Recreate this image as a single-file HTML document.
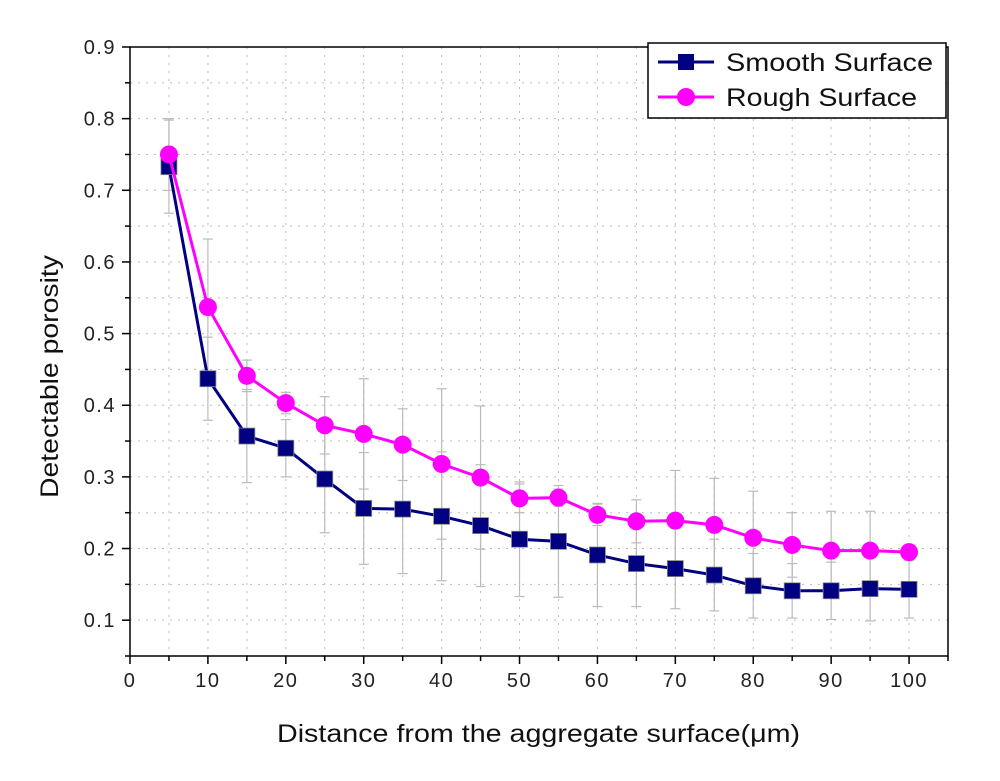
<!DOCTYPE html>
<html><head><meta charset="utf-8"><style>
body{margin:0;background:#fff;}
svg{display:block;font-family:"Liberation Sans",Arial,sans-serif;}
</style></head><body>
<svg id="chart" width="1000" height="781"></svg>
<script>
const xValues=[5,10,15,20,25,30,35,40,45,50,55,60,65,70,75,80,85,90,95,100];
const smoothValues=[0.733,0.437,0.357,0.340,0.297,0.256,0.255,0.245,0.232,0.213,0.210,0.191,0.179,0.172,0.163,0.148,0.141,0.141,0.144,0.143];
const roughValues=[0.750,0.537,0.441,0.403,0.372,0.360,0.345,0.318,0.299,0.270,0.271,0.247,0.238,0.239,0.233,0.215,0.205,0.197,0.197,0.195];
const smoothErr=[0.065,0.058,0.065,0.04,0.075,0.078,0.09,0.09,0.085,0.08,0.078,0.072,0.06,0.056,0.05,0.045,0.038,0.04,0.045,0.04];
const roughErr=[0.05,0.095,0.022,0.015,0.04,0.077,0.05,0.105,0.1,0.02,0.012,0.015,0.03,0.07,0.065,0.065,0.045,0.055,0.055,0.01];
const xTicks=[0,10,20,30,40,50,60,70,80,90,100];
const yTicks=[0.1,0.2,0.3,0.4,0.5,0.6,0.7,0.8,0.9];

const NS="http://www.w3.org/2000/svg";
const svg=document.getElementById('chart');
const L=130,R=948,T=47,B=656;
const xs=v=>L+(v-0)*(R-L)/105;
const ys=v=>B-(v-0.05)*(B-T)/0.85;
function mk(tag,a,parent){const e=document.createElementNS(NS,tag);for(const k in a)e.setAttribute(k,a[k]);(parent||svg).appendChild(e);return e;}

const grid=mk('g',{});


for(let v=5;v<105;v+=5){mk('line',{x1:xs(v),x2:xs(v),y1:T,y2:B,stroke:'#bbb','stroke-dasharray':'2,6'},grid);}
for(let i=1;i<17;i++){const v=0.05+i*0.05;mk('line',{x1:L,x2:R,y1:ys(v),y2:ys(v),stroke:'#bbb','stroke-dasharray':'2,6'},grid);}

const frame=mk('rect',{x:L,y:T,width:R-L,height:B-T,fill:'none',stroke:'#000','stroke-width':1.5});



for(let v=0;v<=105;v+=5){mk('line',{x1:xs(v),x2:xs(v),y1:B,y2:B+(v%10===0?8:5),stroke:'#000','stroke-width':1.5});}
xTicks.forEach(v=>{const t=mk('text',{x:xs(v),y:B+31,'text-anchor':'middle','font-size':20,'letter-spacing':1.5,fill:'#222'});t.textContent=v;

});
for(let i=0;i<=17;i++){const v=0.05+i*0.05;mk('line',{x1:L,x2:L-(i%2===1?8:5),y1:ys(v),y2:ys(v),stroke:'#000','stroke-width':1.5});}
yTicks.forEach(v=>{const t=mk('text',{x:L-14,y:ys(v)+7,'text-anchor':'end','font-size':20,'letter-spacing':1.5,fill:'#222'});t.textContent=v.toFixed(1);

});

const xt=mk('text',{x:277,y:742,'font-size':25,fill:'#111',textLength:523,lengthAdjust:'spacingAndGlyphs'});xt.textContent='Distance from the aggregate surface(\u03BCm)';


const yt=mk('text',{x:0,y:0,'font-size':25,fill:'#111',textLength:243,lengthAdjust:'spacingAndGlyphs',transform:'translate(58,498) rotate(-90)'});yt.textContent='Detectable porosity';



function errs(vals,err,name){const g=mk('g',{});


vals.forEach((v,i)=>{const x=xs(xValues[i]);const y1=ys(v-err[i]),y2=ys(v+err[i]);
mk('line',{x1:x,x2:x,y1:y1,y2:y2,stroke:'#bbb','stroke-width':1.2},g);
mk('line',{x1:x-5,x2:x+5,y1:y1,y2:y1,stroke:'#bbb','stroke-width':1.2},g);
mk('line',{x1:x-5,x2:x+5,y1:y2,y2:y2,stroke:'#bbb','stroke-width':1.2},g);});}
errs(smoothValues,smoothErr,'smooth-error-bars');
errs(roughValues,roughErr,'rough-error-bars');

function series(vals,color,shape,name){const g=mk('g',{});


mk('polyline',{points:vals.map((v,i)=>xs(xValues[i])+','+ys(v)).join(' '),fill:'none',stroke:color,'stroke-width':3},g);
vals.forEach((v,i)=>{const x=xs(xValues[i]),y=ys(v);
if(shape==='sq'){const m=mk('rect',{x:x-8,y:y-8,width:16,height:16,fill:color,stroke:'#888','stroke-width':0.8},g);

}
else{const m=mk('circle',{cx:x,cy:y,r:9,fill:color},g);

}});}
series(smoothValues,'#000080','sq','smooth-surface-series');
series(roughValues,'#ff00ff','ci','rough-surface-series');

const lg=mk('g',{});


mk('rect',{x:648,y:43,width:298,height:75,fill:'#fff',stroke:'#000','stroke-width':1.5},lg);
mk('line',{x1:658,x2:714,y1:62,y2:62,stroke:'#000080','stroke-width':3},lg);
mk('rect',{x:678,y:54,width:16,height:16,fill:'#000080'},lg);
const l1=mk('text',{x:726,y:71,'font-size':25,fill:'#111',textLength:207,lengthAdjust:'spacingAndGlyphs'},lg);l1.textContent='Smooth Surface';


mk('line',{x1:658,x2:714,y1:97,y2:97,stroke:'#ff00ff','stroke-width':3},lg);
mk('circle',{cx:686,cy:97,r:9,fill:'#ff00ff'},lg);
const l2=mk('text',{x:726,y:106,'font-size':25,fill:'#111',textLength:191,lengthAdjust:'spacingAndGlyphs'},lg);l2.textContent='Rough Surface';


</script>
</body></html>
